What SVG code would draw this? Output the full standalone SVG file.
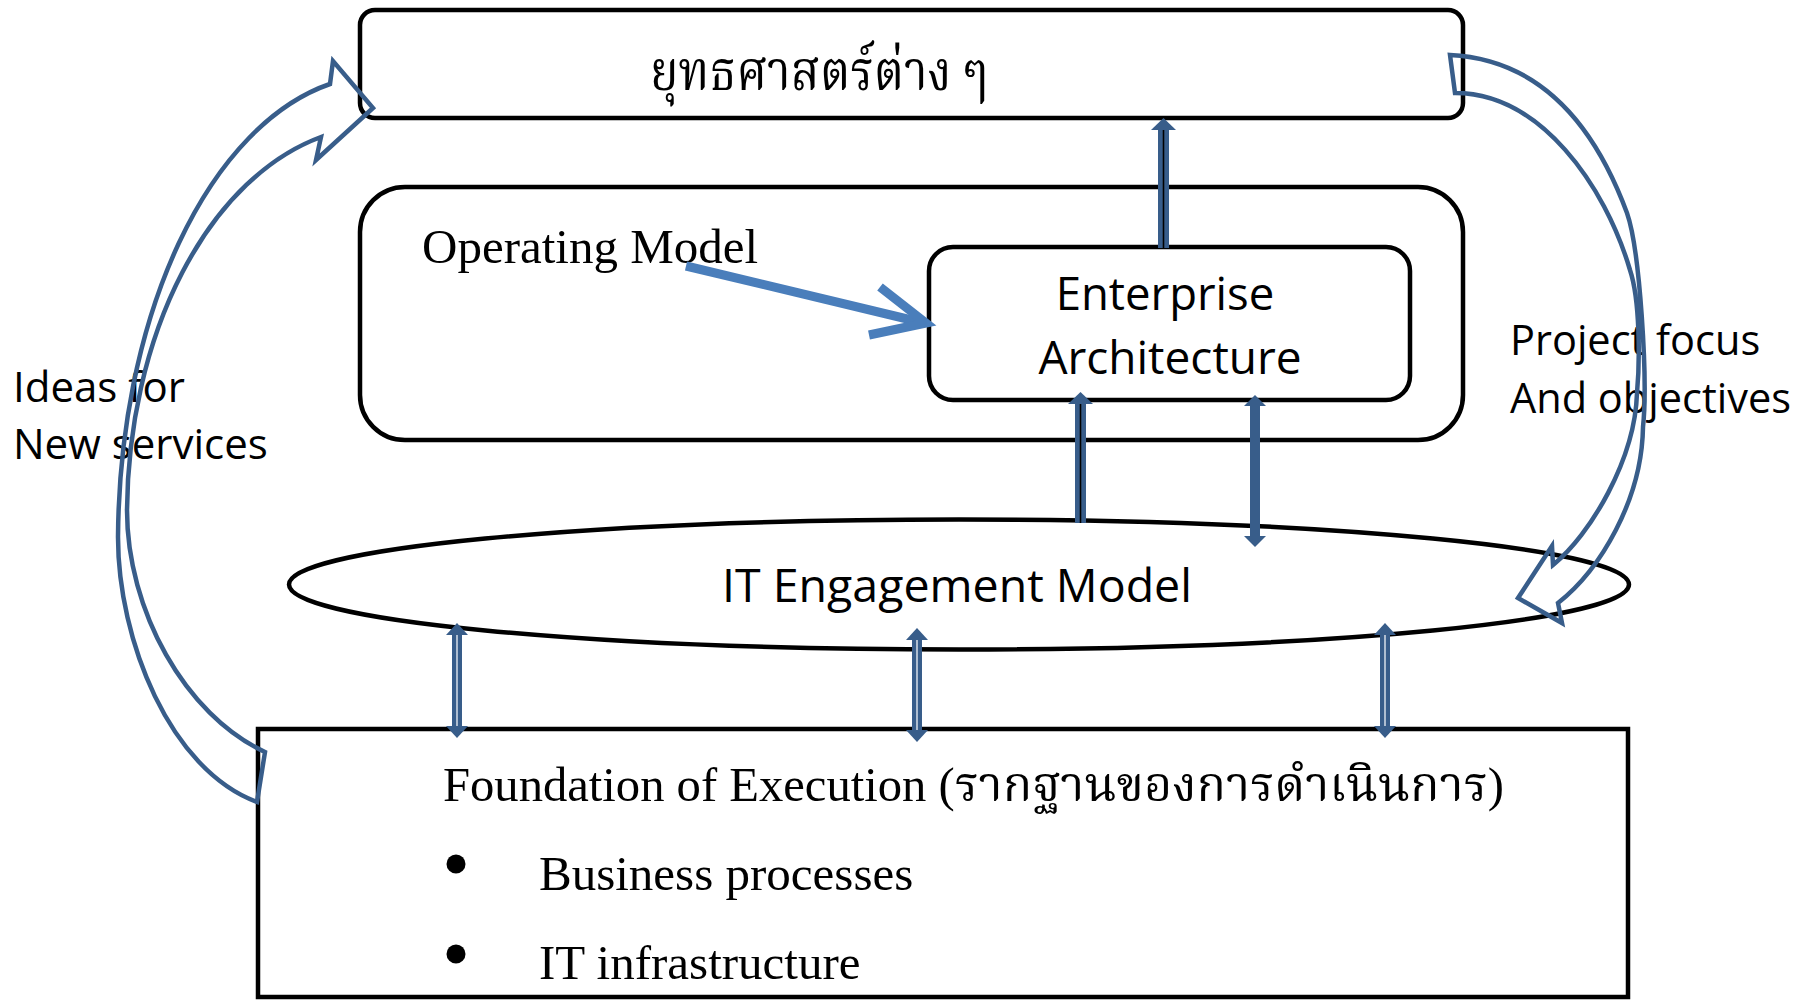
<svg xmlns="http://www.w3.org/2000/svg" width="1814" height="1000" viewBox="0 0 1814 1000">
<style>
.box{fill:#fff;stroke:#000;stroke-width:4.5}
.serif{font-family:"Liberation Serif","Times New Roman",serif;fill:#000}
.thai{font-family:"Liberation Serif","Noto Serif Thai","Noto Sans Thai","Garuda","Loma",serif;fill:#000}
.sans{font-family:"Open Sans","Noto Sans",sans-serif;fill:#000}
.curve{fill:none;stroke:#385D8A;stroke-width:4.5;stroke-linejoin:miter}
.shaft{fill:#385D8A}
.cl{stroke:#000;stroke-width:1.6}
.wl{stroke:#fff;stroke-width:1.2}
</style>
<rect width="1814" height="1000" fill="#fff"/>
<g id="strategies">
<rect class="box" x="360" y="10" width="1103" height="108" rx="15"/>
<text class="thai" x="650" y="90" font-size="55" textLength="338" lengthAdjust="spacingAndGlyphs">ยุทธศาสตร์ต่าง ๆ</text>
</g>
<g id="operating-model">
<rect class="box" x="360" y="187" width="1103" height="253" rx="45"/>
<text class="serif" x="422" y="263" font-size="49">Operating Model</text>
</g>
<g id="enterprise-architecture">
<rect class="box" x="929" y="247" width="481" height="153" rx="24"/>
<text class="sans" x="1165" y="310" font-size="45.5" text-anchor="middle">Enterprise</text>
<text class="sans" x="1170" y="374" font-size="46" text-anchor="middle">Architecture</text>
</g>
<g id="it-engagement-model">
<ellipse cx="959" cy="584.5" rx="670" ry="65" fill="#fff" stroke="#000" stroke-width="4.5"/>
<text class="sans" x="957" y="602" font-size="46.5" text-anchor="middle">IT Engagement Model</text>
</g>
<g id="foundation">
<rect class="box" x="258" y="729" width="1370" height="268"/>
<text class="thai" x="443" y="801" font-size="49" textLength="1061" lengthAdjust="spacingAndGlyphs">Foundation of Execution (รากฐานของการดำเนินการ)</text>
<circle cx="456" cy="864" r="9.5" fill="#000"/>
<text class="serif" x="539" y="890" font-size="49">Business processes</text>
<circle cx="456" cy="954" r="9.5" fill="#000"/>
<text class="serif" x="539" y="979" font-size="49">IT infrastructure</text>
</g>
<g id="label-ideas">
<text class="sans" x="13" y="402" font-size="42">Ideas for</text>
<text class="sans" x="13" y="459" font-size="42">New services</text>
</g>
<g id="label-project">
<text class="sans" x="1510" y="355" font-size="41.5">Project focus</text>
<text class="sans" x="1510" y="413" font-size="41.5">And objectives</text>
</g>
<g id="connectors">
<line x1="686" y1="266" x2="924" y2="323" stroke="#4A7EBB" stroke-width="9"/>
<polyline points="880,287 926,323 869,335" fill="none" stroke="#4A7EBB" stroke-width="9" stroke-linejoin="miter" stroke-linecap="butt"/>
<rect class="shaft" x="1158" y="128" width="11" height="120"/>
<line class="cl" x1="1163.5" y1="128" x2="1163.5" y2="248"/>
<polygon class="shaft" points="1151,130 1163.5,118 1176,130"/>
<rect class="shaft" x="1075" y="402" width="11" height="121"/>
<line class="cl" x1="1080.5" y1="402" x2="1080.5" y2="523"/>
<polygon class="shaft" points="1068,404 1080.5,392 1093,404"/>
<rect class="shaft" x="1250" y="404" width="10" height="134"/>
<polygon class="shaft" points="1244,406 1255,395 1266,406"/>
<polygon class="shaft" points="1244,536 1255,547 1266,536"/>
<rect class="shaft" x="452" y="631" width="10" height="99"/>
<line class="wl" x1="457" y1="633" x2="457" y2="728"/>
<polygon class="shaft" points="446,635 457,623 468,635"/>
<polygon class="shaft" points="446,726 457,738 468,726"/>
<rect class="shaft" x="912" y="636" width="10" height="98"/>
<line class="wl" x1="917" y1="638" x2="917" y2="732"/>
<polygon class="shaft" points="906,640 917,628 928,640"/>
<polygon class="shaft" points="906,730 917,742 928,730"/>
<rect class="shaft" x="1380" y="631" width="10" height="99"/>
<line class="wl" x1="1385" y1="633" x2="1385" y2="728"/>
<polygon class="shaft" points="1374,635 1385,623 1396,635"/>
<polygon class="shaft" points="1374,726 1385,738 1396,726"/>
<path class="curve" d="M257,802 C170,770 118,640 118,537 A262,467 0 0 1 330,84 L333,61 L373,108 L316,160 L321,137 A253,389 0 0 0 127,510 C127,610 185,715 265,752 Z"/>
<path class="curve" d="M1450,55 C1550,60 1600,140 1627,213 C1640,250 1648,380 1643,427 C1642,500 1600,570 1558,603 L1562,623 L1518,598 L1552,546 L1553,565 C1590,535 1635,460 1637,393 C1640,360 1640,300 1630,270 C1605,185 1540,93 1455,93 Z"/>
</g>
</svg>
